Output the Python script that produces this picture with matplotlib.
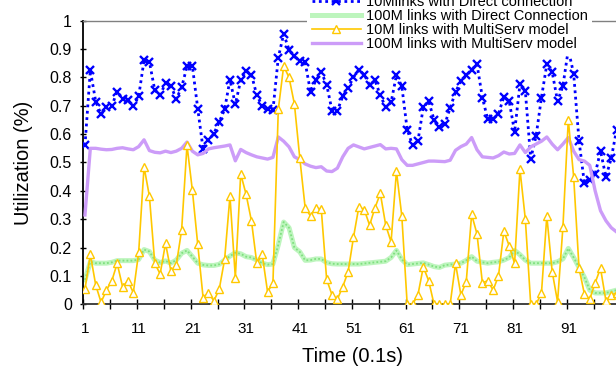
import numpy as np
import matplotlib
matplotlib.use("Agg")
import matplotlib.pyplot as plt

plt.rcParams['font.family'] = ['Liberation Sans', 'DejaVu Sans']

# time samples (0.1 s steps)
samples = np.arange(1, 101)

# 10M links with Direct connection
direct_10m = [
    0.56, 0.825, 0.715, 0.67, 0.695, 0.70, 0.75, 0.724, 0.72, 0.698,
    0.733, 0.86, 0.855, 0.755, 0.738, 0.78, 0.77, 0.724, 0.765, 0.839,
    0.84, 0.69, 0.547, 0.578, 0.602, 0.643, 0.687, 0.792, 0.705, 0.79,
    0.822, 0.81, 0.737, 0.70, 0.69, 0.684, 0.87, 0.953, 0.898, 0.874,
    0.857, 0.853, 0.749, 0.79, 0.818, 0.775, 0.683, 0.683, 0.733, 0.764,
    0.80, 0.827, 0.81, 0.772, 0.79, 0.737, 0.694, 0.712, 0.808, 0.769,
    0.616, 0.561, 0.575, 0.695, 0.716, 0.651, 0.625, 0.635, 0.692, 0.749,
    0.786, 0.807, 0.827, 0.846, 0.729, 0.652, 0.652, 0.672, 0.731, 0.716,
    0.608, 0.776, 0.752, 0.513, 0.593, 0.729, 0.846, 0.819, 0.716, 0.77,
    0.898, 0.813, 0.576, 0.426, 0.44, 0.459, 0.541, 0.449, 0.515, 0.616,
]

# 100M links with Direct Connection
direct_100m = [
    0.086, 0.15, 0.145, 0.145, 0.145, 0.148, 0.154, 0.154, 0.154, 0.154,
    0.158, 0.193, 0.186, 0.156, 0.147, 0.153, 0.145, 0.156, 0.18, 0.19,
    0.168, 0.145, 0.139, 0.137, 0.137, 0.141, 0.156, 0.17, 0.182, 0.178,
    0.168, 0.165, 0.156, 0.145, 0.14, 0.142, 0.21, 0.29, 0.27, 0.20,
    0.185, 0.155, 0.156, 0.16, 0.16, 0.147, 0.143, 0.142, 0.142, 0.142,
    0.142, 0.142, 0.144, 0.146, 0.148, 0.15, 0.152, 0.165, 0.19, 0.158,
    0.14, 0.142, 0.144, 0.146, 0.14, 0.133, 0.13, 0.138, 0.14, 0.142,
    0.145, 0.155, 0.168, 0.152, 0.148, 0.145, 0.148, 0.15, 0.156, 0.165,
    0.19, 0.175, 0.156, 0.145, 0.145, 0.145, 0.145, 0.145, 0.15, 0.16,
    0.197, 0.165, 0.13, 0.095, 0.05, 0.04, 0.04, 0.04, 0.045, 0.05,
]

# 10M links with MultiServ model
multiserv_10m = [
    0.053, 0.176, 0.068, 0.007, 0.05, 0.083, 0.144, 0.062, 0.083, 0.041,
    0.183, 0.485, 0.381, 0.144, 0.107, 0.215, 0.117, 0.138, 0.262, 0.561,
    0.402, 0.211, 0.023, 0.041, 0.012, 0.053, 0.158, 0.381, 0.094, 0.46,
    0.388, 0.294, 0.144, 0.176, 0.044, 0.074, 0.687, 0.84, 0.80, 0.706,
    0.516, 0.341, 0.311, 0.34, 0.336, 0.088, 0.033, 0.018, 0.062, 0.115,
    0.236, 0.344, 0.334, 0.279, 0.34, 0.391, 0.279, 0.22, 0.469, 0.311,
    0.0, 0.0, 0.033, 0.132, 0.083, 0.0, 0.0, 0.0, 0.0, 0.144,
    0.033, 0.08, 0.317, 0.248, 0.076, 0.083, 0.05, 0.10, 0.258, 0.206,
    0.144, 0.476, 0.30, 0.0, 0.0, 0.039, 0.311, 0.115, 0.009, 0.273,
    0.651, 0.449, 0.127, 0.036, 0.018, 0.076, 0.127, 0.013, 0.033, 0.04,
]

# 100M links with MultiServ model
multiserv_100m = [
    0.315, 0.55, 0.55, 0.547, 0.545, 0.546, 0.55, 0.552, 0.548, 0.545,
    0.556, 0.58, 0.542, 0.536, 0.534, 0.54, 0.535, 0.54, 0.55, 0.572,
    0.54, 0.527, 0.532, 0.548, 0.552, 0.555, 0.558, 0.562, 0.506, 0.546,
    0.535, 0.527, 0.52, 0.516, 0.512, 0.518, 0.59, 0.575, 0.555, 0.52,
    0.51, 0.495, 0.487, 0.482, 0.485, 0.47, 0.468, 0.48, 0.52, 0.55,
    0.562, 0.555, 0.548, 0.553, 0.558, 0.563, 0.548, 0.55, 0.548, 0.51,
    0.49, 0.49, 0.495, 0.50, 0.505, 0.505, 0.504, 0.503, 0.508, 0.543,
    0.556, 0.565, 0.588, 0.545, 0.52, 0.518, 0.516, 0.524, 0.537, 0.53,
    0.532, 0.562, 0.535, 0.555, 0.565, 0.575, 0.59, 0.565, 0.545, 0.565,
    0.588, 0.54, 0.51, 0.505, 0.49, 0.40, 0.33, 0.295, 0.27, 0.255,
]

labels = [
    "10Mlinks with Direct connection",
    "100M links with Direct Connection",
    "10M links with MultiServ model",
    "100M links with MultiServ model",
]
tick_labels = [str(t) for t in range(1, 100, 10)]

fig = plt.figure(figsize=(6.16, 3.67), dpi=100)
# axes runs a little past the right edge of the picture (cropped chart)
ax = fig.add_axes([83.3 / 616, 62.7 / 367, 538.7 / 616, 283.6 / 367])

ax.plot(samples, direct_10m, color='#0000FF', lw=2.0, linestyle=(0, (1.0, 1.3)),
        marker='x', markersize=6, mew=1.7, label=labels[0], zorder=3)
ax.plot(samples, direct_100m, color='#BDF5BD', lw=3.6, label=labels[1], zorder=2)
ax.plot(samples, direct_100m, color='#80E080', lw=1.3, linestyle=(0, (1, 1.2)), zorder=2)
ax.plot(samples, multiserv_100m, color='#CC9CF8', lw=2.4, label=labels[3], zorder=4)
ax.plot(samples, multiserv_10m, color='#FFC800', lw=1.2, marker='^', markersize=5.3,
        mfc='white', mec='#FFC800', mew=1.0, label=labels[2], zorder=5)

ax.set_xlim(0.69, 101)
ax.set_ylim(0, 1)

ax.set_yticks(np.arange(0, 1.01, 0.1))
ax.set_yticklabels(['0', '0.1', '0.2', '0.3', '0.4', '0.5', '0.6', '0.7', '0.8', '0.9', '1'])
ax.set_xticks(np.arange(0.7, 101, 5))
ax.set_xticklabels([])
ax.set_xticks(range(1, 100, 10), minor=True)
ax.set_xticklabels(tick_labels, minor=True)

ax.tick_params(axis='y', direction='inout', length=4.5, width=1.0, labelsize=11.5, pad=6)
ax.tick_params(axis='x', which='major', direction='inout', length=6.5, width=1.0)
ax.tick_params(axis='x', which='minor', length=0, labelsize=11, pad=13)

for side in ['left', 'bottom']:
    ax.spines[side].set_linewidth(1.3)
ax.spines['left'].set_color('black')
ax.spines['bottom'].set_color('#333333')
ax.spines['top'].set_color('#808080')
ax.spines['top'].set_linewidth(1.0)
ax.spines['right'].set_visible(False)

ax.set_xlabel("Time (0.1s)", fontsize=14.5, labelpad=8)
ax.set_ylabel("Utilization (%)", fontsize=14.5, labelpad=12)

handles, labs = ax.get_legend_handles_labels()
order = [0, 1, 3, 2]
leg = fig.legend([handles[i] for i in order], [labs[i] for i in order],
                 loc='upper left', bbox_to_anchor=(300 / 616, 1.045),
                 fontsize=10.5, frameon=True, facecolor='white', edgecolor='none',
                 framealpha=1, fancybox=False, borderpad=0.3, labelspacing=0.0,
                 handlelength=3.4, handletextpad=0.3)

fig.savefig("out.png", dpi=100)
